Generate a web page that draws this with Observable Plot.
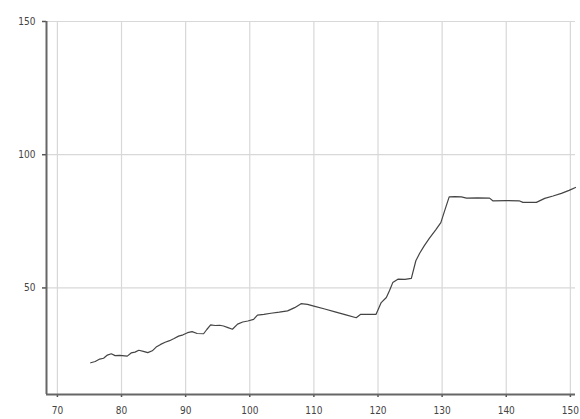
<!DOCTYPE html>
<html><head><meta charset="utf-8">
<script src="https://cdn.jsdelivr.net/npm/d3@7"></script>
<script src="https://cdn.jsdelivr.net/npm/@observablehq/plot@0.6"></script>
<style>body{margin:0;background:#fff}</style>
</head><body><div id="chart"></div>
<script>
const xValues = [75.2,75.9,76.6,77.2,77.8,78.4,79.0,79.7,80.9,81.5,82.1,82.7,83.4,84.1,84.8,85.4,86.1,86.8,87.5,88.2,88.9,89.6,90.3,91.0,91.8,92.8,93.3,93.9,94.6,95.3,95.9,96.6,97.3,98.1,98.9,99.7,100.6,101.2,102.2,103.3,104.6,105.9,107.0,108.0,109.0,110.0,111.7,113.3,115.0,116.6,117.3,118.5,119.7,120.5,121.3,121.8,122.3,123.1,124.2,125.2,125.9,126.5,127.2,128.0,129.0,129.8,130.4,131.1,132.0,133.0,133.8,135.5,137.4,137.9,140.0,142.0,142.6,144.7,146.0,147.3,148.6,149.8,150.8];
const yValues = [21.9,22.4,23.3,23.6,24.8,25.3,24.6,24.7,24.4,25.6,25.9,26.6,26.2,25.7,26.4,27.8,28.8,29.6,30.2,31.0,31.9,32.4,33.2,33.6,32.9,32.8,34.4,36.1,35.9,36.0,35.7,35.1,34.5,36.4,37.2,37.6,38.2,39.8,40.1,40.5,40.9,41.4,42.6,44.1,43.8,43.2,42.1,41.0,39.9,38.8,40.1,40.1,40.1,44.5,46.4,49.0,52.0,53.3,53.2,53.6,60.2,63.0,65.8,68.6,71.8,74.5,79.0,84.2,84.3,84.2,83.7,83.8,83.7,82.7,82.8,82.7,82.1,82.1,83.6,84.5,85.5,86.6,87.7];
const xTicks = [70,80,90,100,110,120,130,140,150];
const yTicks = [50,100,150];

const data = xValues.map((x, i) => ({x, y: yValues[i]}));

const chart = Plot.plot({
  width: 580,
  height: 419,
  marginLeft: 46,
  marginRight: 5,
  marginTop: 21,
  marginBottom: 25,
  style: {fontFamily: "DejaVu Sans Condensed, DejaVu Sans, sans-serif", fontSize: "10px", color: "#444", background: "#fff"},
  x: {domain: [68.3, 150.8], ticks: xTicks, label: null},
  y: {domain: [10, 150], ticks: yTicks, label: null},
  marks: [
    Plot.gridX(xTicks, {stroke: "#d8d8d8", strokeOpacity: 1, strokeWidth: 1.2}),
    Plot.gridY(yTicks, {stroke: "#d8d8d8", strokeOpacity: 1, strokeWidth: 1.2}),
    Plot.axisX(xTicks, {tickSize: 3, tickPadding: 9, stroke: "#555", strokeWidth: 1.5, fill: "#444", label: null}),
    Plot.axisY(yTicks, {tickSize: 4, tickPadding: 7, stroke: "#555", strokeWidth: 1.5, fill: "#444", label: null}),
    Plot.ruleX([68.3], {stroke: "#666", strokeWidth: 2}),
    Plot.ruleY([10], {stroke: "#666", strokeWidth: 2}),
    Plot.line(data, {x: "x", y: "y", stroke: "#444", strokeWidth: 1.2})
  ]
});
document.getElementById("chart").appendChild(chart);
</script></body></html>
